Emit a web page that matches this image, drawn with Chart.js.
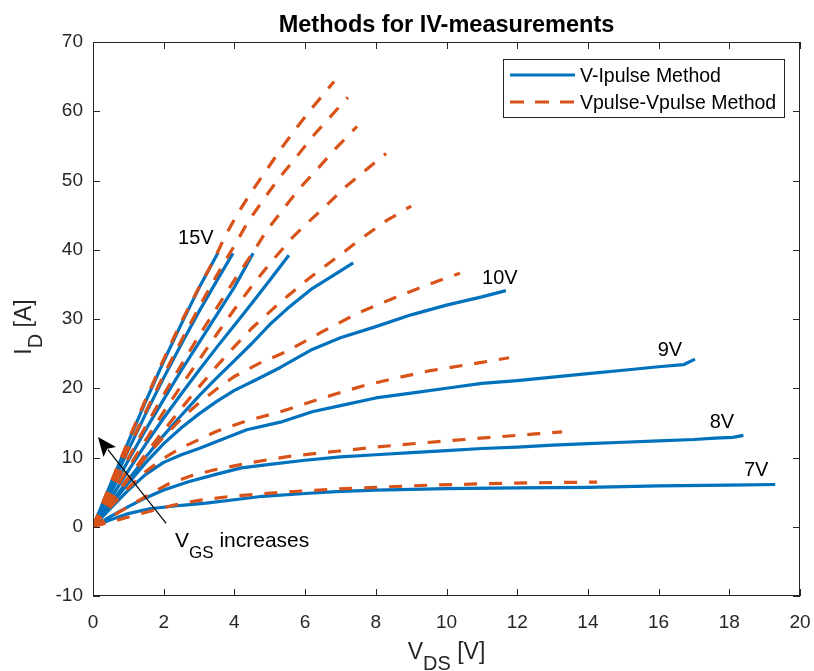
<!DOCTYPE html>
<html lang="en">
<head>
    <meta charset="UTF-8">
    <title>Methods for IV-measurements</title>
    <script src="https://cdn.jsdelivr.net/npm/chart.js"></script>
    <style>
        body { margin: 0; background: #fff; }
        #wrap { width: 814px; height: 671px; position: relative; }
    </style>
</head>
<body>
    <div id="wrap"><canvas id="ivChart"></canvas></div>

    <script>
        // Gate voltage steps (low to high)
        const gateLabels = ['7V', '8V', '9V', '10V', '11V', '12V', '13V', '14V', '15V'];

        // V-Ipulse method, [V_DS, I_D] pairs
        const ip7V  = [[0,0],[0.5,1.0],[1,1.9],[1.6,2.6],[2.5,3.1],[3.2,3.4],[4,3.9],[4.8,4.4],[6,4.8],[7,5.1],[8,5.3],[10,5.5],[12,5.6],[14,5.7],[16,5.9],[18,6.0],[19.3,6.1]];
        const ip8V  = [[0,0],[0.5,1.5],[1,2.9],[1.5,4.2],[2,5.3],[2.7,6.5],[3.5,7.6],[4.2,8.5],[5,9.0],[6,9.6],[7,10.1],[8,10.4],[9,10.7],[10,11.0],[11,11.3],[12,11.5],[13,11.8],[14,12.0],[15,12.2],[16,12.4],[17,12.6],[17.6,12.8],[18.1,12.9],[18.4,13.2]];
        const ip9V  = [[0,0],[0.5,2.7],[1,5.3],[1.5,7.6],[2,9.3],[2.5,10.4],[3,11.3],[3.5,12.3],[4.35,14.0],[5.3,15.1],[6.2,16.6],[7,17.5],[8,18.6],[9,19.3],[10,20.0],[11,20.7],[12,21.1],[13,21.6],[14,22.1],[15,22.6],[16,23.1],[16.7,23.4],[17.03,24.2]];
        const ip10V = [[0,0],[0.5,3.1],[1,6.3],[1.5,9.3],[2,12.0],[2.5,14.3],[3,16.3],[3.5,18.1],[4,19.7],[4.6,21.2],[5.3,23.0],[6.2,25.6],[7,27.3],[8,28.9],[9,30.6],[10,32.0],[11,33.2],[11.68,34.1]];
        const ip11V = [[0,0],[0.5,3.4],[1,6.8],[1.5,10.1],[2,13.2],[2.5,16.1],[3,18.9],[3.5,21.5],[4,24.0],[4.5,26.5],[5,29.2],[5.5,31.5],[6.2,34.4],[6.8,36.3],[7.36,38.1]];
        const ip12V = [[0,0],[0.5,4.1],[1,8.1],[1.5,12.0],[2,15.7],[2.5,19.2],[3,22.6],[3.5,25.9],[4,29.1],[4.5,32.3],[5,35.6],[5.54,39.2]];
        const ip13V = [[0,0],[0.5,4.9],[1,9.6],[1.5,14.1],[2,18.4],[2.5,22.6],[3,26.6],[3.5,30.6],[4,34.6],[4.53,39.5]];
        const ip14V = [[0,0],[0.5,5.6],[1,11.1],[1.5,16.4],[2,21.5],[2.5,26.4],[3,31.1],[3.5,35.5],[3.96,39.5]];
        const ip15V = [[0,0],[0.5,6.2],[1,12.3],[1.5,18.2],[2,23.9],[2.5,29.3],[3,34.5],[3.54,39.6]];

        // Vpulse-Vpulse method, [V_DS, I_D] pairs
        const vp7V  = [[0,0],[0.5,0.7],[1,1.4],[1.5,2.1],[2.26,3.1],[3,3.8],[3.9,4.4],[5.4,5.0],[6.7,5.4],[8,5.7],[9.5,6.0],[11,6.2],[12.5,6.35],[14.26,6.45]];
        const vp8V  = [[0,0],[0.5,1.4],[1,2.9],[1.5,4.4],[2.1,6.1],[2.8,7.4],[3.5,8.3],[4.5,9.3],[5.6,10.2],[6.9,10.9],[8,11.5],[9.3,12.1],[10.5,12.6],[11.5,13.0],[12.5,13.4],[13.27,13.7]];
        const vp9V  = [[0,0],[0.5,2.9],[1,5.6],[1.5,8.0],[2,9.9],[2.5,11.4],[3,12.6],[3.5,13.8],[4.35,15.3],[5.3,16.6],[6.5,18.6],[7.6,20.3],[8.6,21.5],[9.5,22.5],[10.95,23.7],[11.77,24.4]];
        const vp10V = [[0,0],[0.5,3.5],[1,6.9],[1.5,10.1],[2,13.0],[2.5,15.6],[3,17.9],[3.5,19.9],[4,21.7],[4.7,23.6],[5.43,25.2],[6.5,28.2],[7.47,30.8],[8.5,33.0],[9.5,35.0],[10.38,36.6]];
        const vp11V = [[0,0],[0.5,3.6],[1,7.1],[1.5,10.6],[2,13.9],[2.5,17.1],[3,20.2],[3.5,23.2],[4,26.0],[4.5,28.7],[5.29,32.4],[6,35.4],[6.5,37.4],[7,39.3],[7.64,41.8],[8.3,44.2],[9.0,46.3]];
        const vp12V = [[0,0],[0.5,4.3],[1,8.5],[1.5,12.6],[2,16.6],[2.5,20.4],[3,24.1],[3.5,27.8],[4,31.4],[4.5,34.8],[5,38.0],[5.63,41.7],[6.05,43.8],[6.58,46.3],[7.1,48.9],[7.67,51.3],[8.29,53.9]];
        const vp13V = [[0,0],[0.5,5.0],[1,9.9],[1.5,14.6],[2,19.1],[2.5,23.4],[3,27.6],[3.5,31.6],[4,35.6],[4.5,39.4],[4.89,42.6],[5.37,45.8],[5.83,48.8],[6.34,51.6],[6.82,54.4],[7.47,57.8]];
        const vp14V = [[0,0],[0.5,5.7],[1,11.3],[1.5,16.7],[2,21.9],[2.5,26.9],[3,31.7],[3.5,36.3],[4.07,41.2],[4.38,44.0],[4.87,47.6],[5.29,50.5],[5.77,53.5],[6.22,56.4],[6.73,59.3],[7.21,62.0]];
        const vp15V = [[0,0],[0.5,6.3],[1,12.5],[1.5,18.5],[2,24.2],[2.5,29.6],[3,34.6],[3.45,38.8],[3.73,41.9],[4.1,45.3],[4.5,48.5],[4.92,51.6],[5.35,54.8],[5.77,57.7],[6.22,60.6],[6.82,64.3]];

        const ipulseCurves = [ip7V, ip8V, ip9V, ip10V, ip11V, ip12V, ip13V, ip14V, ip15V];
        const vpulseCurves = [vp7V, vp8V, vp9V, vp10V, vp11V, vp12V, vp13V, vp14V, vp15V];

        // Where the gate voltage labels sit, in V_DS / I_D units
        const gateLabelPos = { '15V': [2.91, 41.8], '10V': [11.51, 36.1], '9V': [16.32, 25.7], '8V': [17.79, 15.3], '7V': [18.76, 8.3] };

        const BLUE = '#0072BD';
        const ORANGE = '#D95319';
        const AXIS = '#262626';
        const FONT = "'Liberation Sans', Arial, Helvetica, sans-serif";

        Chart.defaults.font.family = FONT;
        Chart.defaults.font.size = 19;
        Chart.defaults.color = AXIS;

        const toXY = pts => pts.map(([v, i]) => ({ x: v, y: i }));

        const datasets = [];
        ipulseCurves.forEach((pts, k) => {
            datasets.push({
                label: 'V-Ipulse Method ' + gateLabels[k],
                data: toXY(pts),
                borderColor: BLUE,
                borderWidth: 3.2,
                pointRadius: 0,
                fill: false,
                tension: 0,
                borderJoinStyle: 'round',
                borderCapStyle: 'butt',
                order: 1
            });
        });
        vpulseCurves.forEach((pts, k) => {
            datasets.push({
                label: 'Vpulse-Vpulse Method ' + gateLabels[k],
                data: toXY(pts),
                borderColor: ORANGE,
                borderWidth: 3.2,
                borderDash: [13, 12],
                pointRadius: 0,
                fill: false,
                tension: 0,
                borderCapStyle: 'butt',
                order: 0
            });
        });

        // draws text runs, some of them lowered as subscripts
        function drawRuns(ctx, runs, x, y, align) {
            let total = 0;
            runs.forEach(r => {
                ctx.font = r.font;
                r.w = ctx.measureText(r.text).width;
                total += r.w;
            });
            let cx = align === 'center' ? x - total / 2 : x;
            ctx.textAlign = 'left';
            ctx.textBaseline = 'alphabetic';
            runs.forEach(r => {
                ctx.font = r.font;
                ctx.fillText(r.text, cx, y + (r.shift || 0));
                cx += r.w;
            });
        }

        const decorPlugin = {
            id: 'ivDecor',
            afterDraw(chart) {
                const ctx = chart.ctx;
                const { left, right, top, bottom } = chart.chartArea;
                const xs = chart.scales.x;
                const ys = chart.scales.y;
                ctx.save();

                // axes box with inward ticks
                ctx.strokeStyle = AXIS;
                ctx.lineWidth = 1;
                ctx.strokeRect(left + 0.5, top + 0.5, right - left - 1, bottom - top - 1);
                ctx.beginPath();
                xs.ticks.forEach(t => {
                    const px = Math.round(xs.getPixelForValue(t.value)) + 0.5;
                    ctx.moveTo(px, bottom); ctx.lineTo(px, bottom - 7);
                    ctx.moveTo(px, top); ctx.lineTo(px, top + 7);
                });
                ys.ticks.forEach(t => {
                    const py = Math.round(ys.getPixelForValue(t.value)) + 0.5;
                    ctx.moveTo(left, py); ctx.lineTo(left + 7, py);
                    ctx.moveTo(right, py); ctx.lineTo(right - 7, py);
                });
                ctx.stroke();

                // title
                ctx.fillStyle = '#000';
                ctx.font = 'bold 23.5px ' + FONT;
                ctx.textAlign = 'center';
                ctx.textBaseline = 'alphabetic';
                ctx.fillText('Methods for IV-measurements', (left + right) / 2, 32);

                // axis labels
                ctx.fillStyle = AXIS;
                const big = '23px ' + FONT, small = '20px ' + FONT;
                drawRuns(ctx, [
                    { text: 'V', font: big },
                    { text: 'DS', font: small, shift: 11 },
                    { text: ' [V]', font: big }
                ], (left + right) / 2, 659, 'center');

                ctx.save();
                ctx.translate(31, (top + bottom) / 2 + 8);
                ctx.rotate(-Math.PI / 2);
                drawRuns(ctx, [
                    { text: 'I', font: big },
                    { text: 'D', font: small, shift: 11 },
                    { text: ' [A]', font: big }
                ], 0, 0, 'center');
                ctx.restore();

                // gate voltage labels
                ctx.fillStyle = '#000';
                ctx.font = '20px ' + FONT;
                ctx.textAlign = 'center';
                ctx.textBaseline = 'alphabetic';
                Object.entries(gateLabelPos).forEach(([txt, [v, i]]) => {
                    ctx.fillText(txt, xs.getPixelForValue(v), ys.getPixelForValue(i) + 7);
                });

                // "V_GS increases" arrow
                const tail = [xs.getPixelForValue(2.07), ys.getPixelForValue(0.5)];
                const tip = [xs.getPixelForValue(0.14), ys.getPixelForValue(12.95)];
                const dx = tip[0] - tail[0], dy = tip[1] - tail[1];
                const len = Math.hypot(dx, dy);
                const ux = dx / len, uy = dy / len;
                const headLen = 19, headHalf = 8;
                const bx = tip[0] - ux * headLen, by = tip[1] - uy * headLen;
                ctx.strokeStyle = '#000';
                ctx.lineWidth = 1.2;
                ctx.beginPath();
                ctx.moveTo(tail[0], tail[1]);
                ctx.lineTo(bx + ux * 3, by + uy * 3);
                ctx.stroke();
                ctx.fillStyle = '#000';
                ctx.beginPath();
                ctx.moveTo(tip[0], tip[1]);
                ctx.lineTo(bx - uy * headHalf, by + ux * headHalf);
                ctx.lineTo(bx + ux * 4, by + uy * 4);
                ctx.lineTo(bx + uy * headHalf, by - ux * headHalf);
                ctx.closePath();
                ctx.fill();

                drawRuns(ctx, [
                    { text: 'V', font: '21px ' + FONT },
                    { text: 'GS', font: '17px ' + FONT, shift: 11 },
                    { text: ' increases', font: '21px ' + FONT }
                ], xs.getPixelForValue(2.32), ys.getPixelForValue(-2.93), 'left');

                // legend
                const lx = right - 297, ly = top + 17, lw = 282, lh = 59;
                ctx.fillStyle = '#fff';
                ctx.fillRect(lx, ly, lw, lh);
                ctx.strokeStyle = AXIS;
                ctx.lineWidth = 1;
                ctx.strokeRect(lx + 0.5, ly + 0.5, lw - 1, lh - 1);
                const rows = [
                    { text: 'V-Ipulse Method', color: BLUE, dash: [], y: ly + 16 },
                    { text: 'Vpulse-Vpulse Method', color: ORANGE, dash: [14, 11], y: ly + 43 }
                ];
                rows.forEach(r => {
                    ctx.strokeStyle = r.color;
                    ctx.lineWidth = 3.2;
                    ctx.setLineDash(r.dash);
                    ctx.beginPath();
                    ctx.moveTo(lx + 7, r.y);
                    ctx.lineTo(lx + 72, r.y);
                    ctx.stroke();
                    ctx.setLineDash([]);
                    ctx.fillStyle = '#000';
                    ctx.font = '19.5px ' + FONT;
                    ctx.textAlign = 'left';
                    ctx.textBaseline = 'alphabetic';
                    ctx.fillText(r.text, lx + 77, r.y + 7);
                });

                ctx.restore();
            }
        };

        const config = {
            type: 'line',
            data: { datasets: datasets },
            options: {
                responsive: true,
                maintainAspectRatio: false,
                animation: false,
                layout: { padding: { top: 42, right: 14, left: 0, bottom: 0 } },
                plugins: {
                    legend: { display: false },
                    title: { display: false },
                    tooltip: { enabled: false }
                },
                scales: {
                    x: {
                        type: 'linear',
                        min: 0,
                        max: 20,
                        // small padding keeps the last label from widening the right margin
                        ticks: { stepSize: 2, padding: 2, color: AXIS },
                        grid: { display: false, drawTicks: true, tickLength: 13 },
                        border: { display: false },
                        afterFit: s => { s.height = 75; }
                    },
                    y: {
                        type: 'linear',
                        min: -10,
                        max: 70,
                        ticks: { stepSize: 10, padding: 10, color: AXIS },
                        grid: { display: false, drawTicks: false },
                        border: { display: false },
                        afterFit: s => { s.width = 93; }
                    }
                }
            },
            plugins: [decorPlugin]
        };

        const ivChart = new Chart(document.getElementById('ivChart'), config);
    </script>
</body>
</html>
